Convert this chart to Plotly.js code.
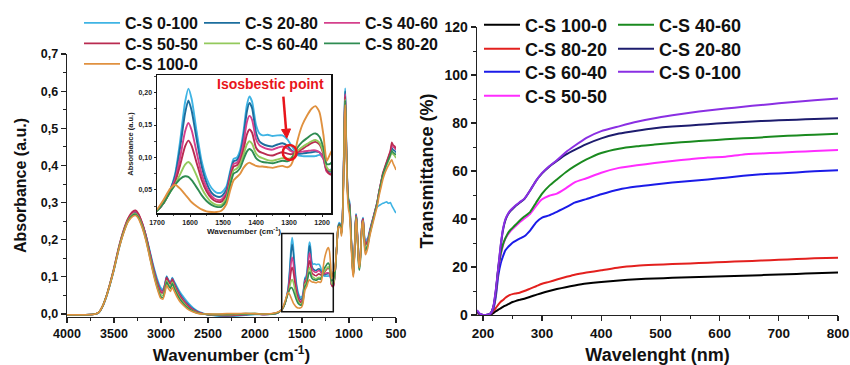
<!DOCTYPE html>
<html><head><meta charset="utf-8">
<script src="https://cdn.plot.ly/plotly-3.0.1.min.js"></script>
<style>html,body{margin:0;padding:0;background:#fff}#chart{width:850px;height:365px}</style>
</head><body><div id="chart"></div>
<script>
// ---------------- FTIR data (absorbance vs wavenumber) ----------------
const ftirNames = ['C-S 0-100','C-S 20-80','C-S 40-60','C-S 50-50','C-S 60-40','C-S 80-20','C-S 100-0'];
const ftirColors = ['#3fb4e4','#1c6e9e','#d5408c','#b92b50','#93c95c','#2f8c52','#e0913f'];

const wnA = [4000,3900,3800,3700,3660,3620,3580,3540,3500,3450,3400,3350,3300,3270,3240,3200,3160,3120,3080,3040,3005,2980,2960,2940,2920,2900,2880,2860,2830,2800,2760,2720,2680,2640,2600,2550,2500,2400,2300,2200,2100,2000,1900,1800,1750];
const wnB = [1720,1700,1680,1660,1645,1630,1615,1605,1595,1580,1565,1550,1535,1520,1505,1490,1478,1468,1458,1448,1438,1428,1420,1412,1400,1390,1380,1365,1350,1335,1320,1305,1295,1285,1275,1260,1245,1232,1220,1208,1196,1186,1176,1166];
const wnC = [1160,1150,1140,1128,1116,1104,1092,1080,1070,1060,1052,1045,1040,1035,1028,1020,1012,1004,996,988,978,968,958,952,944,934,926,918,908,898,890,880,870,860,850,842,832,824,814,800,780,760,740,720,700,680,660,640,620,600,580,560,545,530,515,500];

const cs0_100A = [-0.002,-0.002,-0.002,0,0.004,0.02,0.046,0.08,0.118,0.172,0.218,0.25,0.266,0.268,0.262,0.243,0.212,0.172,0.13,0.095,0.072,0.066,0.08,0.102,0.092,0.085,0.098,0.088,0.074,0.06,0.046,0.033,0.022,0.013,0.007,0.002,-0.002,-0.005,-0.006,-0.005,-0.003,-0.001,-0.001,0,0.004];
const cs0_100B = [0.010,0.018,0.03,0.05,0.075,0.125,0.185,0.206,0.19,0.14,0.095,0.068,0.053,0.046,0.046,0.055,0.08,0.098,0.1,0.112,0.14,0.18,0.194,0.186,0.15,0.137,0.134,0.135,0.133,0.134,0.134,0.128,0.12,0.112,0.104,0.102,0.102,0.102,0.102,0.104,0.098,0.08,0.08,0.085];
const cs0_100C = [0.088,0.108,0.145,0.195,0.236,0.246,0.242,0.222,0.255,0.36,0.49,0.585,0.608,0.555,0.46,0.38,0.33,0.31,0.305,0.28,0.215,0.16,0.12,0.116,0.155,0.23,0.27,0.256,0.2,0.15,0.135,0.155,0.21,0.25,0.26,0.232,0.2,0.195,0.2,0.205,0.225,0.245,0.262,0.278,0.288,0.292,0.295,0.298,0.3,0.302,0.298,0.3,0.292,0.285,0.278,0.272];

const cs20_80A = [-0.002,-0.002,-0.002,0,0.004,0.021,0.048,0.082,0.121,0.176,0.221,0.254,0.27,0.273,0.266,0.244,0.211,0.168,0.125,0.088,0.066,0.063,0.078,0.1,0.09,0.083,0.096,0.085,0.069,0.055,0.04,0.028,0.018,0.011,0.005,0.001,-0.002,-0.004,-0.005,-0.004,-0.002,0,-0.001,0,0.004];
const cs20_80B = [0.010,0.018,0.03,0.05,0.072,0.115,0.168,0.188,0.172,0.128,0.087,0.061,0.046,0.04,0.04,0.05,0.076,0.094,0.096,0.106,0.132,0.17,0.184,0.176,0.138,0.125,0.121,0.118,0.117,0.12,0.122,0.118,0.112,0.108,0.106,0.106,0.107,0.108,0.109,0.108,0.1,0.08,0.078,0.08];
const cs20_80C = [0.085,0.105,0.142,0.192,0.234,0.243,0.24,0.22,0.253,0.355,0.48,0.575,0.6,0.55,0.455,0.375,0.325,0.305,0.3,0.275,0.212,0.157,0.117,0.113,0.152,0.228,0.268,0.253,0.197,0.147,0.132,0.152,0.207,0.247,0.257,0.228,0.195,0.19,0.193,0.198,0.222,0.242,0.262,0.282,0.302,0.33,0.353,0.376,0.39,0.405,0.418,0.432,0.448,0.442,0.44,0.435];

const cs40_60A = [-0.002,-0.002,-0.002,0,0.005,0.022,0.049,0.084,0.123,0.178,0.223,0.256,0.273,0.276,0.268,0.245,0.21,0.166,0.122,0.085,0.063,0.06,0.076,0.098,0.088,0.081,0.094,0.082,0.065,0.051,0.037,0.025,0.016,0.009,0.004,0.001,-0.001,-0.003,-0.004,-0.003,-0.001,0,-0.001,0.001,0.005];
const cs40_60B = [0.010,0.018,0.03,0.049,0.066,0.1,0.14,0.153,0.142,0.108,0.075,0.054,0.041,0.035,0.035,0.045,0.072,0.09,0.092,0.1,0.122,0.154,0.164,0.158,0.128,0.119,0.116,0.113,0.112,0.115,0.117,0.114,0.11,0.108,0.108,0.109,0.11,0.111,0.111,0.108,0.098,0.078,0.075,0.076];
const cs40_60C = [0.082,0.103,0.14,0.19,0.232,0.241,0.239,0.219,0.251,0.352,0.475,0.565,0.592,0.545,0.452,0.372,0.322,0.302,0.297,0.272,0.211,0.156,0.116,0.111,0.151,0.226,0.266,0.251,0.196,0.146,0.131,0.151,0.206,0.246,0.256,0.227,0.193,0.188,0.192,0.197,0.221,0.241,0.261,0.281,0.301,0.33,0.354,0.378,0.393,0.408,0.422,0.437,0.455,0.45,0.447,0.442];

const cs50_50A = [-0.002,-0.002,-0.002,0,0.005,0.022,0.05,0.085,0.125,0.18,0.225,0.258,0.276,0.279,0.27,0.245,0.21,0.165,0.12,0.082,0.058,0.057,0.072,0.098,0.088,0.08,0.093,0.08,0.062,0.048,0.034,0.023,0.014,0.008,0.004,0.001,-0.001,-0.003,-0.004,-0.003,-0.001,0,-0.001,0.001,0.005];
const cs50_50B = [0.010,0.018,0.03,0.048,0.062,0.088,0.117,0.126,0.118,0.092,0.066,0.048,0.037,0.032,0.032,0.042,0.068,0.086,0.088,0.095,0.112,0.135,0.143,0.138,0.115,0.109,0.107,0.104,0.103,0.106,0.108,0.106,0.105,0.106,0.108,0.113,0.118,0.122,0.124,0.12,0.105,0.08,0.074,0.074];
const cs50_50C = [0.085,0.105,0.14,0.19,0.232,0.24,0.238,0.218,0.25,0.35,0.47,0.56,0.585,0.54,0.45,0.37,0.32,0.30,0.295,0.27,0.21,0.155,0.115,0.11,0.15,0.225,0.265,0.25,0.195,0.145,0.13,0.15,0.205,0.245,0.255,0.225,0.19,0.185,0.19,0.195,0.22,0.24,0.26,0.28,0.30,0.33,0.355,0.38,0.395,0.41,0.425,0.44,0.462,0.455,0.452,0.446];

const cs60_40A = [-0.002,-0.002,-0.002,0,0.005,0.022,0.049,0.083,0.122,0.176,0.22,0.252,0.268,0.27,0.262,0.238,0.203,0.158,0.113,0.075,0.053,0.05,0.066,0.09,0.08,0.073,0.086,0.074,0.057,0.043,0.03,0.019,0.011,0.006,0.002,0,-0.001,-0.002,-0.002,-0.001,0,0.001,0,0.001,0.005];
const cs60_40B = [0.010,0.018,0.03,0.047,0.058,0.074,0.089,0.093,0.088,0.072,0.053,0.04,0.031,0.027,0.027,0.037,0.062,0.08,0.083,0.09,0.104,0.12,0.125,0.121,0.106,0.101,0.099,0.096,0.095,0.097,0.099,0.098,0.099,0.104,0.11,0.116,0.121,0.125,0.127,0.123,0.108,0.085,0.08,0.082];
const cs60_40C = [0.088,0.106,0.14,0.188,0.23,0.238,0.235,0.215,0.247,0.345,0.465,0.55,0.578,0.535,0.445,0.365,0.315,0.296,0.29,0.265,0.205,0.15,0.112,0.108,0.148,0.222,0.262,0.247,0.192,0.14,0.124,0.145,0.2,0.24,0.25,0.22,0.182,0.175,0.18,0.188,0.215,0.236,0.256,0.276,0.296,0.325,0.349,0.372,0.387,0.4,0.412,0.425,0.435,0.43,0.426,0.42];

const cs80_20A = [-0.002,-0.002,-0.002,0,0.005,0.022,0.049,0.083,0.121,0.175,0.218,0.25,0.266,0.268,0.26,0.235,0.2,0.155,0.11,0.072,0.048,0.044,0.06,0.086,0.076,0.069,0.082,0.07,0.053,0.04,0.027,0.017,0.01,0.005,0.002,0,-0.001,-0.001,-0.001,0,0.001,0.001,0,0.001,0.005];
const cs80_20B = [0.010,0.018,0.03,0.047,0.058,0.067,0.071,0.07,0.065,0.054,0.042,0.033,0.027,0.024,0.024,0.033,0.058,0.075,0.078,0.084,0.097,0.109,0.113,0.11,0.099,0.095,0.093,0.092,0.091,0.093,0.095,0.094,0.097,0.105,0.115,0.124,0.13,0.135,0.137,0.132,0.115,0.09,0.09,0.095];
const cs80_20C = [0.098,0.112,0.143,0.19,0.232,0.24,0.237,0.216,0.248,0.346,0.465,0.55,0.575,0.535,0.445,0.365,0.316,0.298,0.292,0.266,0.205,0.15,0.111,0.106,0.146,0.22,0.26,0.245,0.19,0.135,0.118,0.14,0.197,0.238,0.248,0.218,0.178,0.17,0.176,0.185,0.213,0.235,0.256,0.277,0.298,0.327,0.351,0.375,0.39,0.404,0.416,0.428,0.44,0.435,0.432,0.428];

const cs100_0A = [-0.002,-0.002,-0.002,0,0.005,0.022,0.048,0.082,0.12,0.173,0.216,0.248,0.263,0.265,0.257,0.232,0.197,0.152,0.106,0.068,0.043,0.04,0.055,0.078,0.068,0.061,0.072,0.062,0.046,0.034,0.023,0.014,0.008,0.004,0.001,0,0,0,0.001,0.001,0.002,0.001,0,0.002,0.006];
const cs100_0B = [0.01,0.02,0.035,0.052,0.058,0.052,0.043,0.037,0.031,0.025,0.02,0.017,0.016,0.016,0.018,0.028,0.05,0.065,0.07,0.075,0.084,0.09,0.092,0.09,0.087,0.086,0.086,0.085,0.084,0.086,0.087,0.085,0.088,0.1,0.125,0.15,0.165,0.175,0.179,0.17,0.135,0.095,0.105,0.115];
const cs100_0C = [0.115,0.12,0.145,0.19,0.23,0.236,0.232,0.21,0.24,0.335,0.45,0.535,0.563,0.52,0.43,0.35,0.3,0.28,0.27,0.245,0.19,0.14,0.105,0.1,0.14,0.215,0.258,0.243,0.19,0.14,0.125,0.145,0.2,0.24,0.25,0.218,0.17,0.16,0.166,0.178,0.208,0.23,0.25,0.27,0.29,0.318,0.34,0.362,0.378,0.39,0.4,0.41,0.415,0.405,0.397,0.388];

// ---------------- UV-Vis data (transmittance vs wavelength) ----------------
const wavelength = [190,195,200,205,210,214,218,222,226,230,234,238,242,246,250,256,262,270,280,290,300,312,325,340,355,375,400,430,460,490,520,550,580,610,640,670,700,730,760,800];
const uvNames = ['C-S 100-0','C-S 80-20','C-S 60-40','C-S 50-50','C-S 40-60','C-S 20-80','C-S 0-100'];
const uvColors = ['#000000','#e3201e','#1b1be8','#ff2cff','#1a8a1f','#1d1c6e','#8a2fe3'];
const uv100_0 = [1,0.2,0,0,0,0.2,0.9,1.6,2.2,2.8,3.4,3.9,4.4,4.9,5.4,5.9,6.3,6.8,7.6,8.4,9.2,10,10.8,11.6,12.3,13.1,13.8,14.4,14.9,15.2,15.5,15.7,15.9,16.1,16.4,16.6,16.9,17.1,17.4,17.7];
const uv80_20 = [1,0.2,0,0,0,0.7,1.8,3,4.3,5.5,6.3,7.2,7.9,8.4,8.7,9,9.3,10,11,12,13,13.8,14.8,15.8,16.8,17.7,18.6,19.8,20.5,20.9,21.2,21.5,21.8,22.1,22.4,22.7,23,23.3,23.6,23.9];
const uv60_40 = [1.5,0.3,0,0,0.2,0.8,2.8,8,16.5,21.5,24.5,27,28.2,29.2,30.1,31,31.8,32.8,35.3,38.6,40.6,41.5,43,44.8,46.8,48.3,50.3,52.3,53.5,54.4,55.2,55.8,56.5,57.2,58,58.6,59,59.4,59.9,60.3];
const uv50_50 = [1.5,0.3,0,0,0.2,1,3.5,9.5,19,25,29,31.8,33.5,34.8,35.8,37.2,38.6,40.2,42.2,45.5,48.2,49.7,50.6,52.8,55.3,57,59.3,61.3,62.4,63.3,64.2,64.9,65.6,65.9,66.9,67.3,67.6,68,68.3,68.7];
const uv40_60 = [1.5,0.3,0,0,0.2,1,3.5,9.5,19.5,25.5,29.5,32,34,35.3,36.3,37.8,39.3,41,43,46.9,50.6,53.8,56.5,59.5,62,64.8,67.5,69.3,70.3,71,71.7,72.2,72.7,73.2,73.6,74,74.5,74.8,75.1,75.5];
const uv20_80 = [1.5,0.3,0,0,0.2,1,3.8,10.5,19.5,28.5,35.5,39.5,41.8,43.2,44.2,45.6,46.8,48.3,52,56,59,61.8,64.2,66.8,68.8,71.2,73.6,75.6,76.8,77.8,78.5,79,79.5,80,80.4,80.8,81.1,81.4,81.7,82];
const uv0_100 = [2,0.5,0,0,0.2,1,4,11,20,29,36,40,42,43.5,44.5,45.8,47,48.5,52,56,59.2,62,64.5,67.8,70.5,73.8,76.6,78.6,80.5,82,83.2,84.3,85.2,86,86.8,87.5,88.2,88.9,89.5,90.2];

// ---------------- build ----------------
const FONT = 'Liberation Sans, Arial, Helvetica, sans-serif';
const ftirA = [cs0_100A, cs20_80A, cs40_60A, cs50_50A, cs60_40A, cs80_20A, cs100_0A];
const ftirB = [cs0_100B, cs20_80B, cs40_60B, cs50_50B, cs60_40B, cs80_20B, cs100_0B];
const ftirC = [cs0_100C, cs20_80C, cs40_60C, cs50_50C, cs60_40C, cs80_20C, cs100_0C];
const uvY = [uv100_0, uv80_20, uv60_40, uv50_50, uv40_60, uv20_80, uv0_100];

// legend slot positions (pixel x of entry origin, pixel y of row centre)
const leftLegendPos = [[79,23],[199,23],[319,23],[79,43.5],[199,43.5],[319,43.5],[79,64]];
const rightLegendPos = [[479,25],[479,49],[479,72],[479,96],[613,25],[613,49],[613,72]];

const traces = [];
const layout = {
  width: 850, height: 365,
  margin: {l:0, r:0, t:0, b:0},
  paper_bgcolor: '#ffffff', plot_bgcolor: 'rgba(0,0,0,0)',
  separators: ',.',
  font: {family: FONT, color: '#111', size: 12, weight: 'bold'},
  showlegend: true,
  hovermode: false
};

function legendCfg(p, size) {
  return {x: p[0]/850, y: 1 - p[1]/365, xanchor: 'left', yanchor: 'middle',
    orientation: 'v', bgcolor: 'rgba(0,0,0,0)', borderwidth: 0, itemwidth: 36,
    font: {family: FONT, size: size, color: '#111', weight: 'bold'}};
}

ftirNames.forEach((nm, i) => {
  const lid = 'legend' + (i === 0 ? '' : (i + 1));
  layout[lid] = legendCfg(leftLegendPos[i], 16);
  traces.push({
    type: 'scatter', mode: 'lines', name: nm, legend: lid,
    x: wnA.concat(wnB, wnC), y: ftirA[i].concat(ftirB[i], ftirC[i]),
    xaxis: 'x', yaxis: 'y',
    line: {color: ftirColors[i], width: 1.6, shape: 'spline', smoothing: 0.5}
  });
});
ftirNames.forEach((nm, i) => {
  traces.push({
    type: 'scatter', mode: 'lines', name: nm, showlegend: false,
    x: wnB, y: ftirB[i], xaxis: 'x3', yaxis: 'y3',
    line: {color: ftirColors[i], width: 1.9, shape: 'spline', smoothing: 0.6}
  });
});
uvNames.forEach((nm, i) => {
  const lid = 'legend' + (i + 8);
  layout[lid] = legendCfg(rightLegendPos[i], 18);
  traces.push({
    type: 'scatter', mode: 'lines', name: nm, legend: lid,
    x: wavelength, y: uvY[i], xaxis: 'x2', yaxis: 'y2',
    line: {color: uvColors[i], width: 2, shape: 'spline', smoothing: 0.5}
  });
});

const AX = '#222';
function axis(extra) {
  return Object.assign({
    showline: true, linecolor: AX, linewidth: 1.3, showgrid: false, zeroline: false,
    ticks: 'outside', ticklen: 5, tickwidth: 1.2, tickcolor: AX,
    tickfont: {family: FONT, size: 12.5, color: '#111', weight: 'bold'}
  }, extra);
}

layout.xaxis = axis({domain: [67/850, 396/850], anchor: 'y', range: [4000, 500], tick0: 0, dtick: 500,
  minor: {dtick: 250, ticks: 'outside', ticklen: 3, tickcolor: AX, tickwidth: 1},
  title: {text: 'Wavenumber (cm<sup>-1</sup>)', font: {family: FONT, size: 17, color: '#111', weight: 'bold'}, standoff: 14}});
layout.yaxis = axis({domain: [48/365, 311/365], anchor: 'x', range: [-0.008, 0.7], tick0: 0, dtick: 0.1, tickformat: '.1f',
  minor: {dtick: 0.05, ticks: 'outside', ticklen: 3, tickcolor: AX, tickwidth: 1},
  title: {text: 'Absorbance (a.u.)', font: {family: FONT, size: 16, color: '#111', weight: 'bold'}, standoff: 10}});

layout.xaxis2 = axis({domain: [477/850, 838/850], anchor: 'y2', range: [190, 800], tick0: 0, dtick: 100,
  tickfont: {family: FONT, size: 13.5, color: '#111', weight: 'bold'},
  minor: {dtick: 50, ticks: 'outside', ticklen: 3, tickcolor: AX, tickwidth: 1},
  title: {text: 'Wavelenght (nm)', font: {family: FONT, size: 18, color: '#111', weight: 'bold'}, standoff: 12}});
layout.yaxis2 = axis({domain: [50/365, 338/365], anchor: 'x2', range: [0, 120], tick0: 0, dtick: 20,
  tickfont: {family: FONT, size: 14, color: '#111', weight: 'bold'},
  minor: {dtick: 10, ticks: 'outside', ticklen: 3, tickcolor: AX, tickwidth: 1},
  title: {text: 'Transmittance (%)', font: {family: FONT, size: 18, color: '#111', weight: 'bold'}, standoff: 6}});

layout.xaxis3 = axis({domain: [157/850, 331/850], anchor: 'y3', range: [1700, 1173], tick0: 0, dtick: 100,
  mirror: true, ticklen: 2, tickwidth: 1, linewidth: 1.5, linecolor: '#111',
  tickfont: {family: FONT, size: 7, color: '#222', weight: 'bold'},
  minor: {dtick: 50, ticks: 'outside', ticklen: 1.5, tickcolor: AX, tickwidth: 0.8},
  title: {text: 'Wavenumber (cm<sup>-1</sup>)', font: {family: FONT, size: 8, color: '#222', weight: 'bold'}, standoff: 2}});
layout.yaxis3 = axis({domain: [152/365, 290/365], anchor: 'x3', range: [0.0145, 0.227], tick0: 0, dtick: 0.05, tickformat: '.2f',
  mirror: true, ticklen: 2, tickwidth: 1, linewidth: 1.5, linecolor: '#111',
  tickfont: {family: FONT, size: 7, color: '#222', weight: 'bold'},
  minor: {dtick: 0.025, ticks: 'outside', ticklen: 1.5, tickcolor: AX, tickwidth: 0.8},
  title: {text: 'Absorbance (a.u.)', font: {family: FONT, size: 7.5, color: '#222', weight: 'bold'}, standoff: 4}});

const RED = '#e8151b';
layout.shapes = [
  // zoom box around the fingerprint region in the main plot
  {type: 'rect', xref: 'x', yref: 'y', x0: 1716, x1: 1167, y0: 0.006, y1: 0.217,
   line: {color: '#111', width: 1.5}, fillcolor: 'rgba(0,0,0,0)'},
  // isosbestic point circle (inset)
  {type: 'circle', xref: 'x3', yref: 'y3', x0: 1319, x1: 1277, y0: 0.0963, y1: 0.1194,
   line: {color: RED, width: 2.5}, fillcolor: 'rgba(0,0,0,0)'},
  // arrow shaft + head (inset)
  {type: 'line', xref: 'x3', yref: 'y3', x0: 1317.3, y0: 0.1938, x1: 1309.2, y1: 0.1435,
   line: {color: RED, width: 2.5}},
  {type: 'path', xref: 'x3', yref: 'y3', path: 'M1322.8,0.1429 L1295.6,0.1440 L1307.0,0.1296 Z',
   fillcolor: RED, line: {color: RED, width: 1}}
];
layout.annotations = [
  {xref: 'paper', yref: 'paper', x: 270.8/850, y: 1 - 84/365, xanchor: 'center', yanchor: 'middle',
   text: 'Isosbestic point', showarrow: false,
   font: {family: FONT, size: 14, color: RED, weight: 'bold'}}
];

Plotly.newPlot('chart', traces, layout, {displayModeBar: false, staticPlot: true});
</script>
</body></html>
